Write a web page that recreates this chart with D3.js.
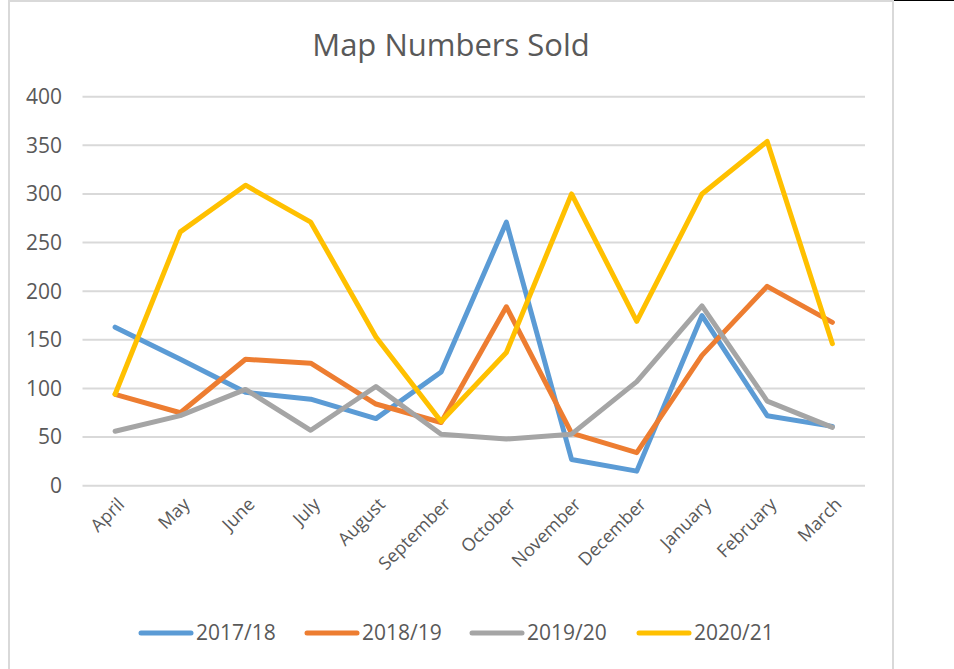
<!DOCTYPE html>
<html>
<head>
<meta charset="utf-8">
<script src="https://cdn.jsdelivr.net/npm/d3@7"></script>
<style>
  body { margin: 0; background: #fff; }
  text { font-family: "Open Sans", sans-serif; }
</style>
</head>
<body>
<div id="chart"></div>
<script>
// data
const months = ["April", "May", "June", "July", "August", "September", "October",
  "November", "December", "January", "February", "March"];
const seriesNames = ["2017/18", "2018/19", "2019/20", "2020/21"];
const seriesColors = ["#5b9bd5", "#ed7d31", "#a5a5a5", "#ffc000"];
const v1718 = [163, 130, 96, 89, 69, 117, 271, 27, 15, 175, 72, 61];
const v1819 = [94, 75, 130, 126, 84, 65, 184, 54, 34, 134, 205, 168];
const v1920 = [56, 72, 99, 57, 102, 53, 48, 53, 107, 185, 87, 60];
const v2021 = [94, 261, 309, 271, 153, 66, 137, 300, 169, 300, 354, 146];
const yTicks = [0, 50, 100, 150, 200, 250, 300, 350, 400];

const allSeries = [v1718, v1819, v1920, v2021];

//==============================================================================

const width = 954, height = 669;

const svg = d3.select("#chart").append("svg")
    .attr("width", width)
    .attr("height", height);

// chart frame
svg.append("rect")
    .attr("x", 9).attr("y", 1)
    .attr("width", 884).attr("height", height + 10)
    .attr("fill", "#fff")
    .attr("stroke", "#d9d9d9")
    .attr("stroke-width", 2);

svg.append("line")
    .attr("x1", 894).attr("x2", width)
    .attr("y1", 0.5).attr("y2", 0.5)
    .attr("stroke", "#000");

svg.append("text")
    .attr("x", 451).attr("y", 56)
    .attr("text-anchor", "middle")
    .attr("font-size", 31)
    .attr("fill", "#595959")
    .text("Map Numbers Sold");

const x = d3.scalePoint()
    .domain(months)
    .range([82.5, 865])
    .padding(0.5);

const y = d3.scaleLinear()
    .domain([0, 400])
    .range([485.7, 96.7]);

// gridlines
svg.append("g")
    .selectAll("line")
    .data(yTicks)
    .join("line")
      .attr("x1", 82.5).attr("x2", 865)
      .attr("y1", d => y(d)).attr("y2", d => y(d))
      .attr("stroke", "#d9d9d9")
      .attr("stroke-width", 2);

// y labels
svg.append("g")
    .selectAll("text")
    .data(yTicks)
    .join("text")
      .attr("x", 62)
      .attr("y", d => y(d))
      .attr("dy", "0.35em")
      .attr("text-anchor", "end")
      .attr("font-size", 21)
      .attr("fill", "#595959")
      .text(d => d);

// x labels, rotated
svg.append("g")
    .selectAll("text")
    .data(months)
    .join("text")
      .attr("text-anchor", "end")
      .attr("font-size", 18)
      .attr("fill", "#595959")
      .attr("transform", d => `translate(${x(d) + 6},${501}) rotate(-45)`)
      .attr("dy", "0.35em")
      .text(d => d);

const line = d3.line()
    .x((d, i) => x(months[i]))
    .y(d => y(d));

svg.append("g")
    .selectAll("path")
    .data(allSeries)
    .join("path")
      .attr("d", line)
      .attr("fill", "none")
      .attr("stroke", (d, i) => seriesColors[i])
      .attr("stroke-width", 5)
      .attr("stroke-linejoin", "round")
      .attr("stroke-linecap", "round");

// legend
const legendX = [139, 305, 470, 637];
const legend = svg.append("g")
    .selectAll("g")
    .data(seriesNames)
    .join("g")
      .attr("transform", (d, i) => `translate(${legendX[i]},633)`);

legend.append("line")
    .attr("x1", 2).attr("x2", 52)
    .attr("stroke", (d, i) => seriesColors[i])
    .attr("stroke-width", 5)
    .attr("stroke-linecap", "round");

legend.append("text")
    .attr("x", 57)
    .attr("dy", "0.35em")
    .attr("font-size", 21)
    .attr("fill", "#595959")
    .text(d => d);
</script>
</body>
</html>
